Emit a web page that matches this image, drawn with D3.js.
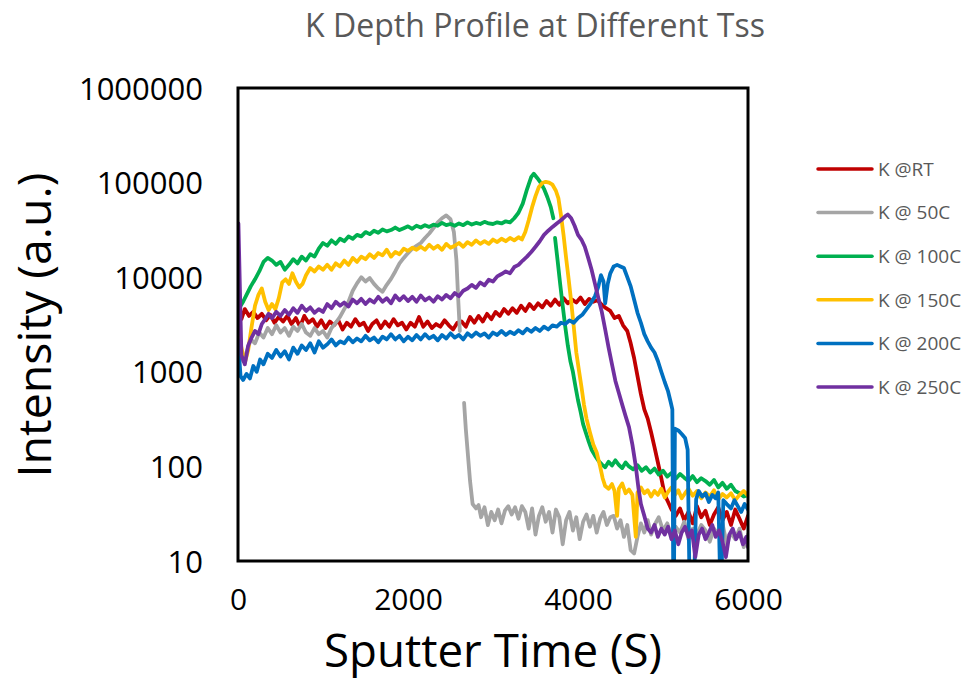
<!DOCTYPE html>
<html>
<head>
<meta charset="utf-8">
<script src="https://cdn.jsdelivr.net/npm/d3@7"></script>
<style>
	body { margin: 0; background: #fff; }
	text { font-family: "Open Sans", "DejaVu Sans", sans-serif; }
</style>
</head>
<body>
<div id="chart"></div>
<script>
// K depth profiles, [sputter time (s), intensity]; null = break in the line
var kRT = [
	[0,4200],[40,3600],[80,4600],[130,3900],[180,4300],[230,3700],[280,4100],[330,3500],[380,4000],[430,3300],
	[480,3800],[530,3400],[580,3900],[630,3200],[680,3700],[730,3000],[780,3900],[830,3300],[880,3600],[930,3000],
	[980,3500],[1030,2900],[1080,3400],[1130,3100],[1180,3500],[1230,2800],[1280,3300],[1330,3000],[1380,3600],[1430,3100],
	[1480,3300],[1530,2700],[1580,3200],[1630,3500],[1680,2900],[1730,3400],[1780,3000],[1830,3600],[1880,3100],[1930,3300],
	[1980,2800],[2030,3300],[2080,3000],[2130,3800],[2180,3000],[2230,3400],[2280,2900],[2330,3200],[2380,3000],[2430,3500],
	[2480,3100],[2530,2800],[2580,3300],[2630,3400],[2680,3000],[2730,3800],[2780,3300],[2830,3900],[2880,3400],[2930,4100],
	[2980,3600],[3030,4300],[3080,3900],[3130,4600],[3180,4100],[3230,4700],[3280,4200],[3330,5000],[3380,4400],[3430,5200],
	[3480,4600],[3530,5300],[3580,4800],[3630,5600],[3680,5000],[3730,5800],[3780,5100],[3830,6000],[3880,5300],[3930,5800],
	[3980,5400],[4030,6100],[4080,5200],[4130,5900],[4180,5500],[4230,5700],[4280,5100],[4330,4700],[4380,4400],[4430,3700],
	[4480,3900],[4530,3100],[4580,2700],[4620,2000],[4660,1400],[4700,900],[4740,580],[4780,400],[4820,320],[4860,230],
	[4900,160],[4940,110],[4980,75],[5020,50],[5060,42],[5100,35],[5150,30],[5200,36],[5250,27],[5300,33],
	[5350,25],[5400,38],[5450,29],[5500,34],[5550,24],[5600,31],[5650,37],[5700,27],[5750,33],[5800,24],
	[5850,35],[5900,28],[5950,22],[6000,30]
];

var k50C = [
	[20,1800],[60,1300],[100,1600],[150,2200],[200,2000],[250,2600],[300,2300],[350,2900],[400,2500],[450,3100],
	[500,2600],[550,2900],[600,2400],[650,3000],[700,2700],[750,3200],[800,2600],[850,2400],[900,2900],[950,2500],
	[1000,2700],[1050,2300],[1100,2900],[1150,3300],[1200,3800],[1250,4600],[1300,5500],[1350,7200],[1400,8600],[1450,10000],
	[1500,9000],[1550,9800],[1600,8500],[1650,7600],[1700,7000],[1750,8300],[1800,9600],[1850,11500],[1900,14000],[1950,16000],
	[2000,18000],[2050,20000],[2100,21500],[2150,23000],[2200,26000],[2250,29000],[2300,33000],[2350,38000],[2400,42000],[2450,45000],
	[2500,41000],[2540,30000],[2570,15000],[2590,6000],[2610,2700],[2630,null],
	[2660,470],[2680,250],[2700,150],[2730,70],[2760,40],[2800,36],[2830,39],[2860,29],[2900,37],[2940,24],
	[2980,33],[3020,27],[3060,35],[3100,25],[3140,34],[3180,38],[3220,31],[3260,37],[3300,28],[3340,38],
	[3380,33],[3420,22],[3460,36],[3500,19],[3540,30],[3580,37],[3620,26],[3660,33],[3700,20],[3740,35],
	[3780,29],[3820,15],[3860,27],[3900,33],[3940,21],[3980,29],[4020,17],[4060,26],[4100,31],[4140,23],
	[4180,30],[4220,20],[4260,28],[4300,33],[4340,24],[4380,29],[4420,30],[4460,22],[4500,27],[4540,18],
	[4580,24],[4620,13],[4660,12],[4700,18],[4740,25],[4780,20],[4820,27],[4860,19],[4900,24],[4950,29],
	[5000,21],[5050,25],[5100,18],[5150,23],[5200,20],[5250,26],[5300,17],[5350,22],[5400,19],[5450,24],
	[5500,21],[5550,16],[5600,22],[5650,19],[5700,25],[5750,15],[5800,20],[5850,17],[5900,22],[5950,14],[6000,19]
];

var k100C = [
	[20,4800],[60,5500],[100,6500],[150,8000],[200,9500],[250,11500],[300,14500],[350,16000],[400,15000],[450,13500],
	[500,14500],[550,12000],[600,13500],[650,15500],[700,14000],[750,16500],[800,15000],[850,17500],[900,16500],[950,20000],
	[1000,23000],[1050,21500],[1100,24500],[1150,22500],[1200,25500],[1250,24000],[1300,27000],[1350,25500],[1400,28000],[1450,27000],
	[1500,30000],[1550,28500],[1600,31000],[1650,29500],[1700,32000],[1750,30500],[1800,31500],[1850,33500],[1900,31500],[1950,33000],
	[2000,34500],[2050,32500],[2100,35000],[2150,33500],[2200,35500],[2250,34000],[2300,36000],[2350,35000],[2400,37500],[2450,35500],
	[2500,36500],[2550,35000],[2600,37000],[2650,35500],[2700,38000],[2750,36000],[2800,37500],[2850,36500],[2900,38500],[2950,37000],
	[3000,36500],[3050,38000],[3100,37000],[3150,39000],[3200,38000],[3250,42000],[3300,48000],[3350,60000],[3400,85000],[3450,115000],
	[3480,124000],[3520,112000],[3560,100000],[3600,86000],[3640,70000],[3680,55000],[3710,42000],[3720,null],
	[3730,26000],[3760,15000],[3790,8500],[3820,5000],[3850,3000],[3880,1900],[3910,1300],[3940,1000],[3970,700],[4000,500],
	[4030,380],[4060,280],[4090,230],[4120,190],[4160,150],[4200,130],[4240,115],[4280,105],[4320,98],[4360,112],
	[4400,102],[4440,116],[4480,104],[4520,96],[4560,110],[4600,100],[4650,93],[4700,103],[4750,90],[4800,98],
	[4850,86],[4900,95],[4950,82],[5000,90],[5050,78],[5100,85],[5150,74],[5200,83],[5250,76],[5300,70],
	[5350,79],[5400,68],[5450,75],[5500,70],[5550,64],[5600,72],[5650,60],[5700,67],[5750,58],[5800,64],
	[5850,55],[5900,52],[5950,48],[6000,50]
];

var k150C = [
	[0,3500],[40,1800],[80,1250],[120,1700],[160,3000],[200,5000],[240,6500],[280,7600],[320,5500],[360,4500],
	[400,5200],[440,4600],[480,6000],[520,8800],[560,9500],[600,8500],[640,11000],[680,9000],[720,7800],[760,8500],
	[800,10500],[850,12500],[900,11500],[950,13000],[1000,12000],[1050,13500],[1100,12000],[1150,14000],[1200,13000],[1250,15000],
	[1300,13500],[1350,16000],[1400,14500],[1450,16500],[1500,15500],[1550,17500],[1600,16000],[1650,18000],[1700,17000],[1750,19500],
	[1800,16500],[1850,18500],[1900,17500],[1950,20000],[2000,19000],[2050,20500],[2100,19500],[2150,21000],[2200,19500],[2250,22000],
	[2300,20000],[2350,21500],[2400,19500],[2450,22500],[2500,20500],[2550,21500],[2600,23000],[2650,21000],[2700,23500],[2750,22000],
	[2800,24500],[2850,22500],[2900,24000],[2950,22500],[3000,25000],[3050,23500],[3100,25500],[3150,24000],[3200,26000],[3250,24500],
	[3300,26500],[3340,25000],[3380,30000],[3420,40000],[3460,55000],[3500,72000],[3540,90000],[3580,99000],[3620,102000],[3660,100000],
	[3700,95000],[3740,82000],[3770,68000],[3800,45000],[3830,28000],[3860,16000],[3890,9500],[3920,5500],[3950,3000],[3980,1600],
	[4010,1050],[4040,700],[4070,450],[4100,320],[4140,230],[4180,170],[4220,140],[4260,100],[4290,75],[4320,62],
	[4360,58],[4400,65],[4430,55],[4460,30],[4480,58],[4520,66],[4560,52],[4600,57],[4640,50],[4680,18],
	[4700,53],[4740,60],[4780,52],[4820,56],[4860,48],[4900,55],[4940,50],[4980,58],[5020,47],[5060,54],
	[5100,60],[5140,50],[5180,56],[5220,46],[5260,52],[5300,58],[5350,49],[5400,55],[5450,46],[5500,53],
	[5550,48],[5600,56],[5650,45],[5700,51],[5750,47],[5800,52],[5850,44],[5900,50],[5950,55],[6000,49]
];

var k200C = [
	[0,2200],[30,900],[60,820],[100,950],[140,850],[180,1150],[220,1000],[260,1350],[300,1200],[350,1550],
	[400,1400],[450,1700],[500,1450],[550,1650],[600,1350],[650,1800],[700,1550],[750,1900],[800,1700],[850,2000],
	[900,1600],[950,2100],[1000,1800],[1050,1950],[1100,2200],[1150,1900],[1200,2100],[1250,2000],[1300,2300],[1350,2050],
	[1400,2250],[1450,2100],[1500,2400],[1550,2150],[1600,2300],[1650,2050],[1700,2350],[1750,2200],[1800,2500],[1850,2200],
	[1900,2400],[1950,2100],[2000,2350],[2050,2150],[2100,2450],[2150,2200],[2200,2500],[2250,2250],[2300,2400],[2350,2150],
	[2400,2450],[2450,2250],[2500,2550],[2550,2300],[2600,2450],[2650,2200],[2700,2550],[2750,2350],[2800,2600],[2850,2400],
	[2900,2550],[2950,2300],[3000,2600],[3050,2450],[3100,2700],[3150,2450],[3200,2650],[3250,2500],[3300,2750],[3350,2550],
	[3400,2850],[3450,2650],[3500,2900],[3550,2700],[3600,3000],[3650,2800],[3700,3100],[3750,3000],[3800,3300],[3850,3200],
	[3900,3500],[3950,3300],[4000,3700],[4050,4000],[4100,4600],[4150,5300],[4200,6300],[4240,8000],[4270,10500],[4300,9000],
	[4320,5300],[4350,8500],[4380,11000],[4420,13000],[4460,13500],[4500,13000],[4540,12500],[4580,10000],[4620,8000],[4660,5800],
	[4700,4200],[4740,3300],[4780,2500],[4820,2100],[4860,1800],[4900,1600],[4940,1300],[4980,1000],[5020,780],[5060,620],
	[5090,480],[5110,400],[5120,8],[5130,8],[5140,250],[5180,240],[5220,220],[5260,200],[5290,150],[5310,8],
	[5340,8],[5370,8],[5390,45],[5420,55],[5460,48],[5500,52],[5540,42],[5580,50],[5620,46],[5650,53],
	[5670,8],[5690,8],[5710,44],[5750,40],[5800,36],[5840,44],[5880,38],[5920,33],[5960,40],[6000,35]
];

var k250C = [
	[5,37000],[40,1500],[80,1200],[120,1900],[160,2300],[200,2700],[240,2500],[280,3200],[320,3600],[360,4100],
	[400,3700],[450,4300],[500,3900],[550,4500],[600,4000],[650,4700],[700,4200],[750,5000],[800,4400],[850,4800],
	[900,4200],[950,4600],[1000,4300],[1050,5200],[1100,4700],[1150,5500],[1200,5000],[1250,5400],[1300,4900],[1350,5800],
	[1400,5300],[1450,5900],[1500,5200],[1550,5800],[1600,5400],[1650,6200],[1700,5500],[1750,6000],[1800,5300],[1850,6400],
	[1900,5700],[1950,6300],[2000,5600],[2050,6200],[2100,5500],[2150,6400],[2200,5700],[2250,6100],[2300,5500],[2350,6300],
	[2400,5800],[2450,6500],[2500,6000],[2550,6800],[2600,6300],[2650,7200],[2700,7600],[2750,8300],[2800,7700],[2850,8800],
	[2900,8200],[2950,9400],[3000,9000],[3050,10200],[3100,10800],[3150,11500],[3200,11000],[3250,12800],[3300,13500],[3350,15000],
	[3400,16500],[3450,18500],[3500,21000],[3550,24000],[3600,28000],[3650,31000],[3700,34000],[3750,37000],[3800,40000],[3850,44000],
	[3880,46000],[3920,42000],[3960,35000],[4000,28000],[4040,25000],[4080,21000],[4120,16000],[4160,12000],[4200,8500],[4240,6000],
	[4280,4300],[4320,2800],[4360,1800],[4400,1200],[4440,800],[4480,600],[4520,450],[4560,340],[4600,260],[4640,170],
	[4680,100],[4710,60],[4740,40],[4780,30],[4820,22],[4860,20],[4900,24],[4940,18],[4980,22],[5020,19],
	[5060,23],[5100,17],[5140,21],[5180,15],[5220,20],[5260,23],[5300,18],[5340,21],[5380,11],[5420,19],
	[5460,22],[5500,17],[5540,20],[5580,24],[5620,18],[5660,21],[5700,16],[5740,11],[5780,19],[5820,22],
	[5860,17],[5900,20],[5940,15],[5980,18],[6000,14]
];

var seriesNames = ["K @RT", "K @ 50C", "K @ 100C", "K @ 150C", "K @ 200C", "K @ 250C"];
var seriesColors = ["#C00000", "#A5A5A5", "#00B050", "#FFC000", "#0070C0", "#7030A0"];
var seriesData = [kRT, k50C, k100C, k150C, k200C, k250C];

var yTicks = [10, 100, 1000, 10000, 100000, 1000000];
var xTicks = [0, 2000, 4000, 6000];

var width = 978, height = 679;
var plot = {left: 238, right: 748, top: 88, bottom: 561};

var svg = d3.select("#chart").append("svg")
	.attr("width", width)
	.attr("height", height);

var x = d3.scaleLinear().domain([0, 6000]).range([plot.left, plot.right]);
var y = d3.scaleLog().domain([10, 1000000]).range([plot.bottom, plot.top]);

// shrink/grow a text to a given width
function fitText(sel, target) {
	var fs = parseFloat(sel.attr("font-size"));
	var len = sel.node().getComputedTextLength();
	sel.attr("font-size", (fs * target / len).toFixed(2));
}

svg.append("text")
	.attr("x", 535).attr("y", 37)
	.attr("text-anchor", "middle")
	.attr("font-size", 24)
	.attr("fill", "#595959")
	.text("K Depth Profile at Different Tss")
	.call(fitText, 460);

svg.append("clipPath").attr("id", "plotClip")
	.append("rect")
	.attr("x", plot.left).attr("y", plot.top)
	.attr("width", plot.right - plot.left).attr("height", plot.bottom - plot.top);

var line = d3.line()
	.defined(d => d[1] != null)
	.x(d => x(d[0]))
	.y(d => y(d[1]));

svg.append("g")
	.attr("clip-path", "url(#plotClip)")
	.selectAll("path")
	.data(seriesData)
	.join("path")
	.attr("d", line)
	.attr("fill", "none")
	.attr("stroke", (d, i) => seriesColors[i])
	.attr("stroke-width", 3.8)
	.attr("stroke-linejoin", "round")
	.attr("stroke-linecap", "round");

// frame
svg.append("rect")
	.attr("x", plot.left).attr("y", plot.top)
	.attr("width", plot.right - plot.left).attr("height", plot.bottom - plot.top)
	.attr("fill", "none")
	.attr("stroke", "#000")
	.attr("stroke-width", 3);

var yAxis = svg.append("g")
	.attr("transform", "translate(" + plot.left + ",0)")
	.call(d3.axisLeft(y).tickValues(yTicks).tickFormat(d3.format("d")).tickSize(0).tickPadding(35));
var xAxis = svg.append("g")
	.attr("transform", "translate(0," + plot.bottom + ")")
	.call(d3.axisBottom(x).tickValues(xTicks).tickFormat(d3.format("d")).tickSize(0).tickPadding(28));
yAxis.select(".domain").remove();
xAxis.select(".domain").remove();
yAxis.selectAll("text")
	.attr("font-family", null)
	.attr("font-size", 31)
	.attr("fill", "#000")
	.attr("dy", "0.36em");
xAxis.selectAll("text")
	.attr("font-family", null)
	.attr("font-size", 30)
	.attr("fill", "#000");

svg.append("text")
	.attr("transform", "translate(51,325) rotate(-90)")
	.attr("text-anchor", "middle")
	.attr("font-size", 44)
	.attr("fill", "#000")
	.text("Intensity (a.u.)")
	.call(fitText, 305);

svg.append("text")
	.attr("x", 493).attr("y", 667)
	.attr("text-anchor", "middle")
	.attr("font-size", 44)
	.attr("fill", "#000")
	.text("Sputter Time (S)")
	.call(fitText, 338);

var legend = svg.append("g")
	.selectAll("g")
	.data(seriesNames)
	.join("g")
	.attr("transform", (d, i) => "translate(818," + (169 + i * 43.6) + ")");
legend.append("line")
	.attr("x1", 0).attr("x2", 54)
	.attr("stroke", (d, i) => seriesColors[i])
	.attr("stroke-width", 3.5)
	.attr("stroke-linecap", "round");
legend.append("text")
	.attr("x", 60)
	.attr("dy", "0.36em")
	.attr("font-size", 19)
	.attr("fill", "#595959")
	.text(d => d);
</script>
</body>
</html>
